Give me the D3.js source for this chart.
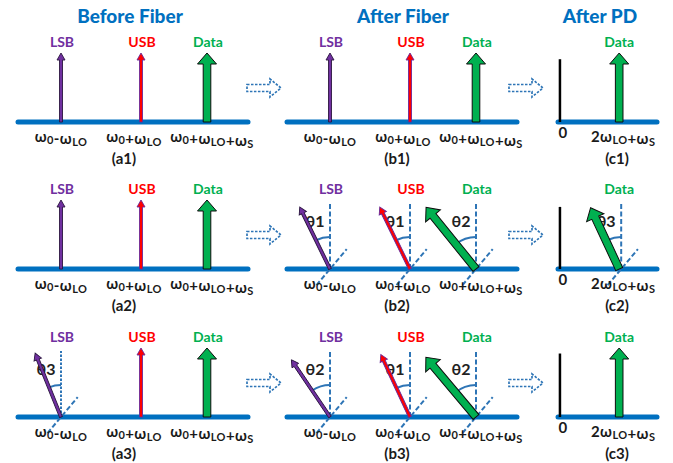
<!DOCTYPE html>
<html>
<head>
<meta charset="utf-8">
<script src="https://cdn.jsdelivr.net/npm/d3@7"></script>
<style>
  html, body { margin: 0; padding: 0; background: #fff; }
  svg { display: block; font-family: Lato, "Open Sans", sans-serif; }
</style>
</head>
<body>
<div id="chart"></div>
<script>
// --- data ---
const colTitles = ['Before Fiber', 'After Fiber', 'After PD'];
const colKeys = ['a', 'b', 'c'];
const toneNames = ['LSB', 'USB', 'Data'];
const toneFreqs = [-1, 1, 2.65];        // in units of wLO around w0 (wS ~ 1.65)
const pdNames = ['DC', 'Data'];
const pdFreqs = [0, 3.65];              // 0 and 2wLO + wS
const toneTicks = [
  [['ω', '0'], ['-ω', 'LO']],
  [['ω', '0'], ['+ω', 'LO']],
  [['ω', '0'], ['+ω', 'LO'], ['+ω', 'S']]
];
const pdTicks = [[['0', '']], [['2ω', 'LO'], ['+ω', 'S']]];
// amplitudes per row (normalised)
const ampBefore = [[1, 1, 1], [1, 1, 1], [1, 1, 1]];
const ampAfter = [[1, 1, 1], [1, 1, 1.15], [1, 1, 1.13]];
const ampPD = [[0.91, 1], [0.9, 0.98], [0.92, 1]];
// phase rotation (deg) per row
const angBefore = [[0, 0, 0], [0, 0, 0], [22, 0, 0]];
const angAfter = [[0, 0, 0], [26, 26, 39], [34, 25, 40]];
const angPD = [[0, 0], [0, 25], [0, 0]];
const thBefore = [[null, null, null], [null, null, null], ['θ3', null, null]];
const thAfter = [[null, null, null], ['θ1', 'θ1', 'θ2'], ['θ2', 'θ1', 'θ2']];
const thPD = [[null, null], [null, 'θ3'], [null, null]];

// --- layout ---
const W = 673, H = 463;
const rowBase = [122, 269, 417];
const blue = '#0070C0', dashBlue = '#2E75B6';
const toneFill = ['#7030A0', '#FF0000', '#00B050'];
const toneStroke = ['#2b1640', '#6a2a9a', '#0d0d0d'];
const labelColor = ['#7030A0', '#FF0000', '#00B050'];

const svg = d3.select('#chart').append('svg').attr('width', W).attr('height', H);

const xA = d3.scaleLinear().domain([-2.075, 3.675]).range([18, 248]);
const xB = d3.scaleLinear().domain([-2.075, 3.675]).range([287, 517]);
const xC = d3.scaleLinear().domain([-0.12, 5.98]).range([558, 657]);
const amp = d3.scaleLinear().domain([0, 1]).range([0, 69]);

// titles
const titleX = [130, 403, 600];
svg.selectAll('text.title').data(colTitles).join('text').attr('class', 'title')
  .attr('x', (d, i) => titleX[i]).attr('y', 23).attr('text-anchor', 'middle')
  .style('font-size', '19px').style('font-weight', 900).style('fill', blue).text(d => d);

function arrowPath(len, thin) {
  const sw = thin ? 1.5 : 3.8, hw = thin ? 4 : 9.5, hl = thin ? 7 : 11;
  return `M${-sw},0 L${-sw},${-len + hl} L${-hw},${-len + hl} L0,${-len} L${hw},${-len + hl} L${sw},${-len + hl} L${sw},0 Z`;
}

function drawAngle(g, x, y, ang, label, dotted) {
  const d = dotted ? '2.5,1.5' : '5,2.5';
  g.append('line').attr('x1', x).attr('y1', y).attr('x2', x).attr('y2', y - 66)
    .attr('stroke', dashBlue).attr('stroke-width', 2).attr('stroke-dasharray', d);
  const a = 50 * Math.PI / 180;
  g.append('line').attr('x1', x - 21 * Math.cos(a)).attr('y1', y + 21 * Math.sin(a))
    .attr('x2', x + 26 * Math.cos(a)).attr('y2', y - 26 * Math.sin(a))
    .attr('stroke', dashBlue).attr('stroke-width', 2).attr('stroke-dasharray', '5,2.5');
  const r = 32, p = d3.path();
  const t = ang * Math.PI / 180;
  p.moveTo(x, y - r);
  p.arc(x, y, r, -Math.PI / 2, -Math.PI / 2 - t, true);
  g.append('path').attr('d', p.toString()).attr('fill', 'none').attr('stroke', dashBlue).attr('stroke-width', 2);
  g.append('text').attr('x', x - 15).attr('y', y - 42).attr('text-anchor', 'middle')
    .style('font-size', '16px').style('font-weight', 700).style('fill', '#222').text(label);
}

function tickText(g, x, y, parts) {
  const t = g.append('text').attr('x', x).attr('y', y).attr('text-anchor', 'middle')
    .style('font-size', '15px').style('font-weight', 700).style('fill', '#1a1a1a')
    .style('letter-spacing', '0.4px');
  parts.forEach(([main, sub]) => {
    t.append('tspan').attr('dy', 0).text(main);
    if (sub) {
      t.append('tspan').attr('dy', 2).style('font-size', '11px').text(sub);
      t.append('tspan').attr('dy', -2).text('');
    }
  });
}

function dottedArrow(x, y) {
  const pts = [[0, -3.5], [23, -3.5], [23, -9], [34, 0], [23, 9], [23, 3.5], [0, 3.5]];
  svg.append('path').attr('d', 'M' + pts.map(p => `${x + p[0]},${y + p[1]}`).join('L') + 'Z')
    .attr('fill', 'none').attr('stroke', dashBlue).attr('stroke-width', 1.7).attr('stroke-dasharray', '2.5,1.5');
}

const tickDx = [0, -7, 5];

rowBase.forEach((y0, r) => {
  const g = svg.append('g');
  // columns a and b
  [[xA, ampBefore, angBefore, thBefore], [xB, ampAfter, angAfter, thAfter]].forEach(([x, am, an, th], c) => {
    g.append('line').attr('x1', x.range()[0]).attr('x2', x.range()[1]).attr('y1', y0).attr('y2', y0)
      .attr('stroke', blue).attr('stroke-width', 5).attr('stroke-linecap', 'round');
    toneFreqs.forEach((f, i) => {
      const px = x(f);
      if (th[r][i]) drawAngle(g, px, y0, an[r][i], th[r][i], c === 0);
      g.append('path').attr('d', arrowPath(amp(am[r][i]), i < 2))
        .attr('transform', `translate(${px},${y0}) rotate(${-an[r][i]})`)
        .attr('fill', toneFill[i]).attr('stroke', toneStroke[i]).attr('stroke-width', i < 2 ? 0.9 : 1);
      g.append('text').attr('x', px + 1).attr('y', y0 - 75).attr('text-anchor', 'middle')
        .style('font-size', '14px').style('font-weight', 700).style('fill', labelColor[i]).text(toneNames[i]);
      tickText(g, px + tickDx[i], y0 + 20, toneTicks[i]);
    });
    g.append('text').attr('x', (c === 0 ? 124 : 397)).attr('y', y0 + 42).attr('text-anchor', 'middle')
      .style('font-size', '15px').style('font-weight', 700).style('fill', '#1a1a1a').text(`(${colKeys[c]}${r + 1})`);
  });
  // column c
  g.append('line').attr('x1', xC.range()[0]).attr('x2', xC.range()[1]).attr('y1', y0).attr('y2', y0)
    .attr('stroke', blue).attr('stroke-width', 5).attr('stroke-linecap', 'round');
  pdFreqs.forEach((f, i) => {
    const px = xC(f);
    if (i === 0) {
      g.append('line').attr('x1', px).attr('x2', px).attr('y1', y0).attr('y2', y0 - amp(ampPD[r][i]))
        .attr('stroke', '#000').attr('stroke-width', 2.5);
      tickText(g, px + 3, y0 + 16, pdTicks[i]);
    } else {
      if (thPD[r][i]) drawAngle(g, px + 2, y0, angPD[r][i], thPD[r][i], false);
      g.append('path').attr('d', arrowPath(amp(ampPD[r][i]), false))
        .attr('transform', `translate(${px},${y0}) rotate(${-angPD[r][i]})`)
        .attr('fill', toneFill[2]).attr('stroke', '#0d0d0d').attr('stroke-width', 1);
      g.append('text').attr('x', px).attr('y', y0 - 75).attr('text-anchor', 'middle')
        .style('font-size', '14px').style('font-weight', 700).style('fill', labelColor[2]).text(pdNames[i]);
      tickText(g, px + 4, y0 + 20, pdTicks[i]);
    }
  });
  g.append('text').attr('x', 617).attr('y', y0 + 42).attr('text-anchor', 'middle')
    .style('font-size', '15px').style('font-weight', 700).style('fill', '#1a1a1a').text(`(c${r + 1})`);
  dottedArrow(247, y0 - 34);
  dottedArrow(509, y0 - 34);
});
</script>
</body>
</html>
